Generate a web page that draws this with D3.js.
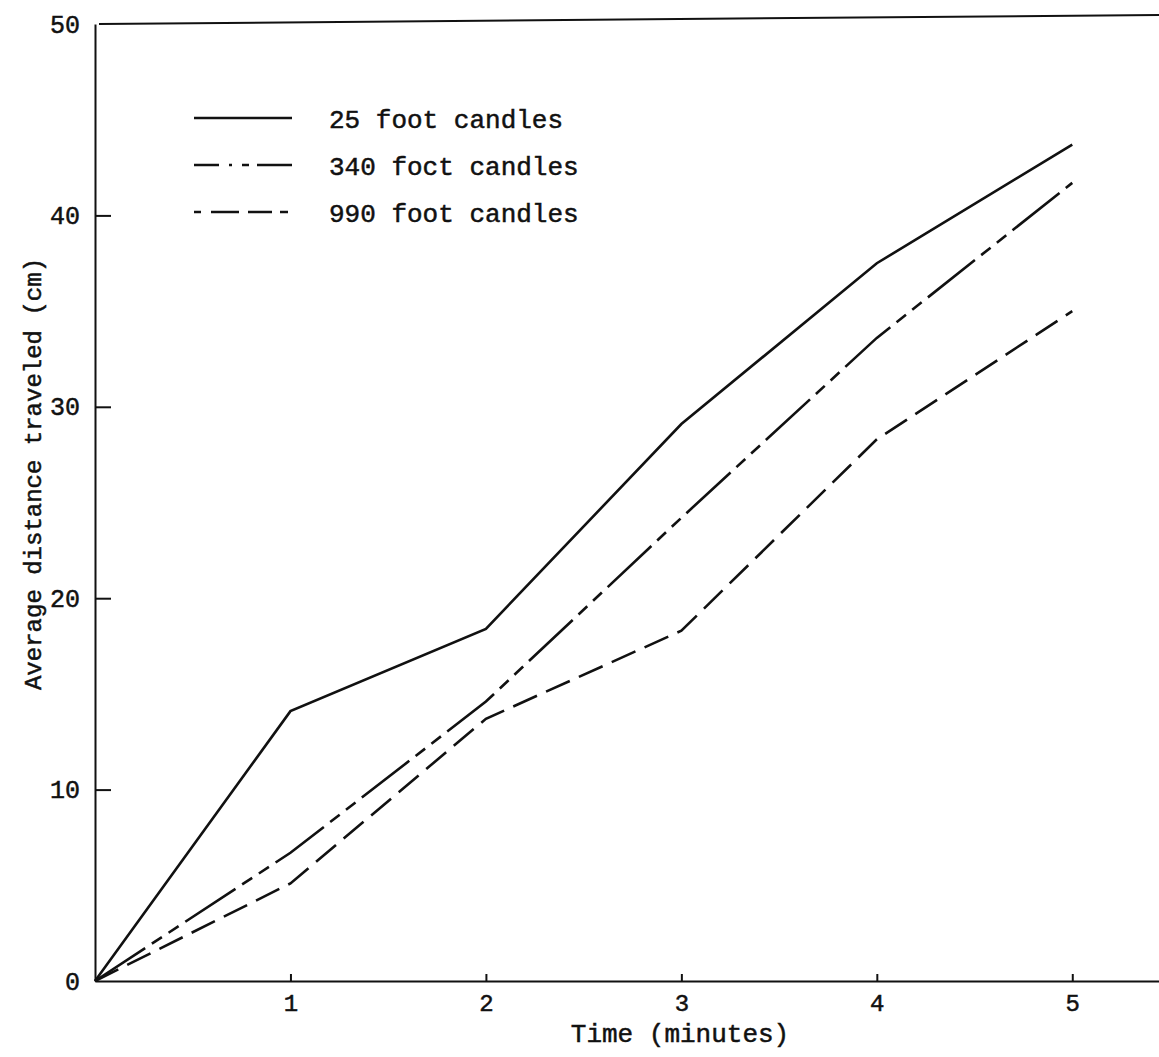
<!DOCTYPE html>
<html>
<head>
  <meta charset="utf-8">
  <title>Average distance traveled</title>
  <script src="https://d3js.org/d3.v7.min.js"></script>
</head>
<style>
  body { margin: 0; background: white; }
  text { font-family: "Liberation Mono", "DejaVu Sans Mono", monospace; fill: #111; stroke: #111; stroke-width: 0.5px; }
  .axis text { font-size: 25px; }
  .axis path, .axis line { stroke: #111; stroke-width: 2; }
</style>
<body>
</body>
<script>

  var minutes = [0, 1, 2, 3, 4, 5];
  var seriesNames = ['25 foot candles', '340 foct candles', '990 foot candles'];
  var fc25 = [0, 14.1, 18.4, 29.1, 37.5, 43.7];
  var fc340 = [0, 6.7, 14.6, 24.2, 33.6, 41.7];
  var fc990 = [0, 5.1, 13.7, 18.3, 28.3, 35.0];
  var xTicks = [1, 2, 3, 4, 5];
  var yTicks = [0, 10, 20, 30, 40, 50];

  var width = 1159, height = 1057;
  var dashes = [null, '60,8,12,8,12,8', '26,10'];
  var legendDashes = [null, '25,10,3,10,7,8,35', '7,10,28,9,24,8,8'];

  var xScale = d3.scaleLinear()
    .domain([0, 5.5])
    .range([95, 1170]);

  var yScale = d3.scaleLinear()
    .domain([0, 50])
    .range([981, 24]);

  var svg = d3.select('body').append('svg')
    .attr('width', width)
    .attr('height', height);

  // x axis, small ticks pointing up into the plot
  svg.append('g')
    .attr('class', 'axis')
    .attr('transform', 'translate(0,' + yScale(0) + ')')
    .call(d3.axisBottom(xScale).tickValues(xTicks).tickFormat(d3.format('d')).tickSize(-7).tickPadding(30).tickSizeOuter(0))
    .call(function(g) { g.selectAll('text').attr('dy', 0).style('font-size', '24px'); });

  // y axis, ticks pointing right
  svg.append('g')
    .attr('class', 'axis')
    .attr('transform', 'translate(' + xScale(0) + ',0)')
    .call(d3.axisLeft(yScale).tickValues(yTicks).tickSize(-16).tickPadding(15).tickSizeOuter(0))
    .call(function(g) { g.selectAll('.tick').filter(function(d) { return d === 0 || d === 50; }).select('line').remove(); });

  // top frame line (scan is slightly tilted)
  svg.append('line')
    .attr('x1', xScale(0) + 4).attr('x2', width)
    .attr('y1', yScale(50)).attr('y2', yScale(50) - 9)
    .attr('stroke', '#111').attr('stroke-width', 2);

  svg.append('text')
    .attr('x', 680)
    .attr('y', 1042)
    .attr('text-anchor', 'middle')
    .style('font-size', '26px')
    .text('Time (minutes)');

  svg.append('text')
    .attr('transform', 'translate(41,' + 474 + ') rotate(-90)')
    .attr('text-anchor', 'middle')
    .style('font-size', '24px')
    .text('Average distance traveled (cm)');

  var line = d3.line()
    .x(function(d, i) { return xScale(minutes[i]); })
    .y(function(d) { return yScale(d); });

  var allSeries = [fc25, fc340, fc990];

  svg.selectAll('.series')
    .data(allSeries)
    .enter()
      .append('path')
      .attr('class', 'series')
      .attr('d', line)
      .attr('fill', 'none')
      .attr('stroke', '#111')
      .attr('stroke-width', 2.6)
      .attr('stroke-dasharray', function(d, i) { return dashes[i]; });

  // legend
  var legend = svg.selectAll('.legend')
    .data(seriesNames)
    .enter()
      .append('g')
      .attr('class', 'legend')
      .attr('transform', function(d, i) { return 'translate(194,' + (118 + i * 47) + ')'; });

  legend.append('line')
    .attr('x1', 0).attr('x2', 98)
    .attr('y1', 0).attr('y2', 0)
    .attr('stroke', '#111')
    .attr('stroke-width', 2.4)
    .attr('stroke-dasharray', function(d, i) { return legendDashes[i]; });

  legend.append('text')
    .attr('x', 135)
    .attr('y', 10)
    .style('font-size', '26px')
    .text(function(d) { return d; });

</script>
</html>
